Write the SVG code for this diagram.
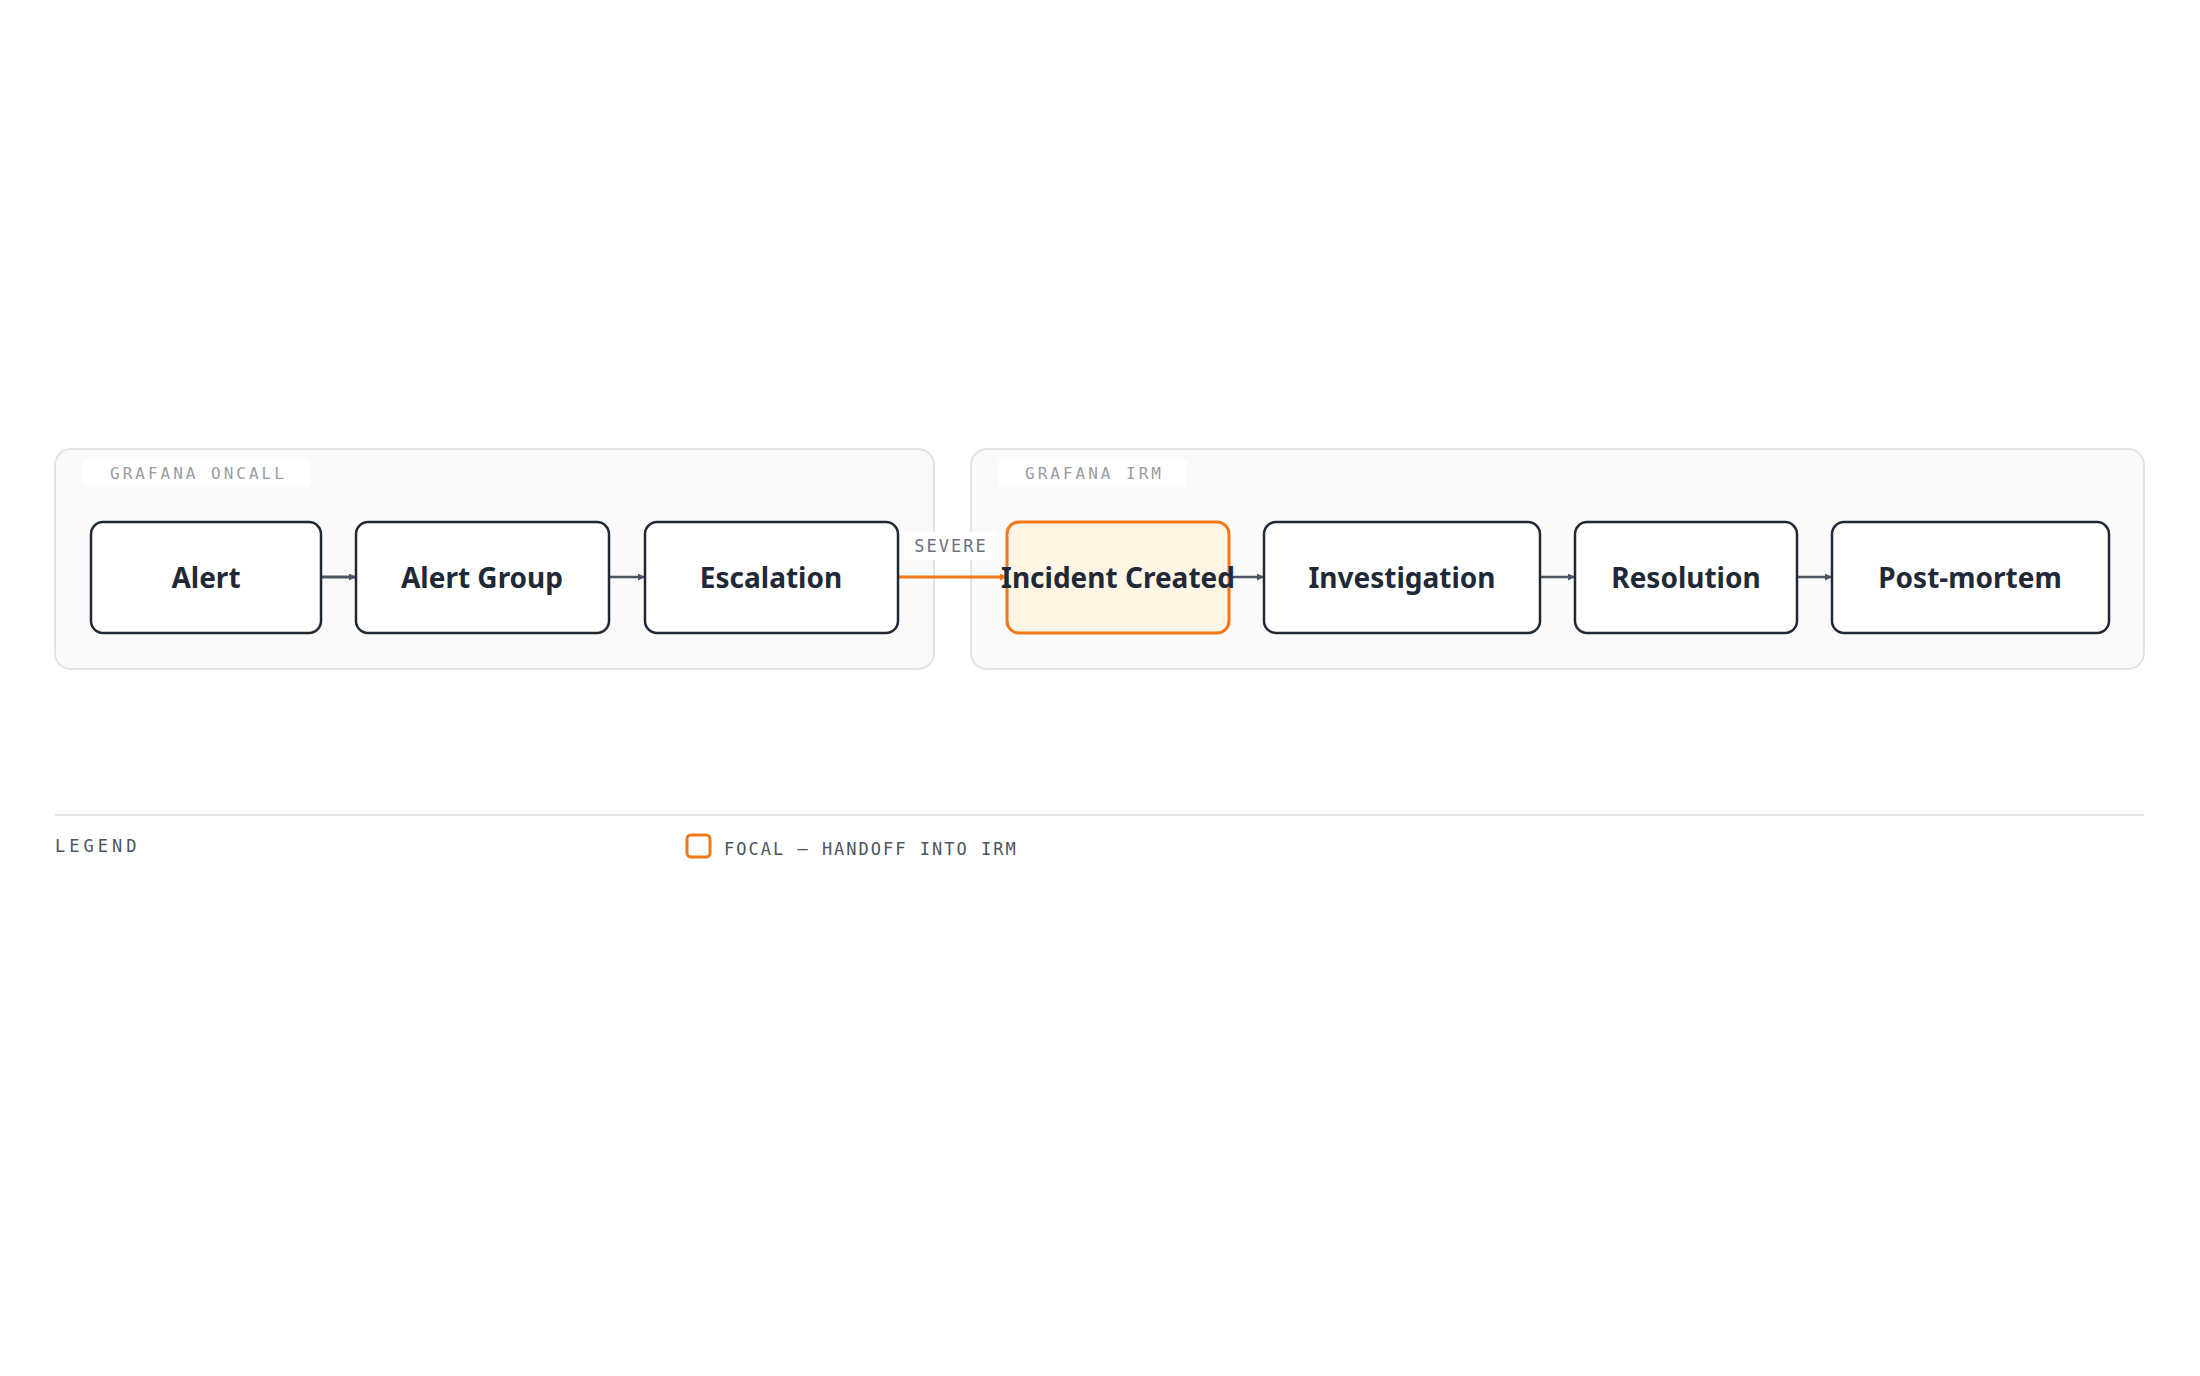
<svg xmlns="http://www.w3.org/2000/svg" width="2200" height="1376" viewBox="0 0 2200 1376">
<style>
.grp{fill:#fafafa;stroke:#e3e3e3;stroke-width:2}
.pill{fill:#ffffff}
.gl{font-family:"DejaVu Sans Mono","Liberation Mono",monospace;font-size:16px;fill:#9a9ca0;letter-spacing:3px}
.node{fill:#ffffff;stroke:#1f2937;stroke-width:2.5}
.focal{fill:#fff5e5;stroke:#f07818;stroke-width:3}
.nt{font-family:"Noto Sans","Open Sans",sans-serif;font-size:28px;font-weight:bold;fill:#1f2937;text-anchor:middle;dominant-baseline:central}
.e{stroke:#4b5563;stroke-width:2.5;fill:none}
.eo{stroke:#f07818;stroke-width:3;fill:none}
.lt{font-family:"DejaVu Sans Mono","Liberation Mono",monospace;font-size:17px;fill:#4b5563;letter-spacing:2px}
</style>
<defs>
<marker id="ag" viewBox="0 0 10 10" refX="10" refY="5" markerWidth="7" markerHeight="7" markerUnits="userSpaceOnUse" orient="auto"><path d="M0,0L10,5L0,10z" fill="#4b5563"/></marker>
<marker id="ao" viewBox="0 0 10 10" refX="10" refY="5" markerWidth="7" markerHeight="7" markerUnits="userSpaceOnUse" orient="auto"><path d="M0,0L10,5L0,10z" fill="#f07818"/></marker>
</defs>
<rect width="2200" height="1376" fill="#ffffff"/>
<g id="group-oncall">
<rect class="grp" x="55" y="449" width="879" height="220" rx="16"/>
<rect class="pill" x="83" y="459" width="227" height="28" rx="4"/>
<text class="gl" x="110" y="479">GRAFANA ONCALL</text>
</g>
<g id="group-irm">
<rect class="grp" x="971" y="449" width="1173" height="220" rx="16"/>
<rect class="pill" x="998" y="459" width="189" height="28" rx="4"/>
<text class="gl" x="1025" y="479">GRAFANA IRM</text>
</g>
<g id="connectors">
<line class="e" x1="321" y1="577" x2="356" y2="577" marker-end="url(#ag)" style="stroke-width:3"/>
<line class="e" x1="609" y1="577" x2="645" y2="577" marker-end="url(#ag)"/>
<line class="eo" x1="898" y1="577" x2="1007" y2="577" marker-end="url(#ao)"/>
<line class="e" x1="1229" y1="577" x2="1264" y2="577" marker-end="url(#ag)"/>
<line class="e" x1="1540" y1="577" x2="1575" y2="577" marker-end="url(#ag)"/>
<line class="e" x1="1797" y1="577" x2="1832" y2="577" marker-end="url(#ag)"/>
<rect x="904" y="532" width="94" height="28" fill="#ffffff"/>
<text class="lt" x="951" y="552" text-anchor="middle" style="fill:#6b7280">SEVERE</text>
</g>
<g id="n-alert"><rect class="node" x="91" y="522" width="230" height="111" rx="12"/><text class="nt" x="206" y="577">Alert</text></g>
<g id="n-alertgroup"><rect class="node" x="356" y="522" width="253" height="111" rx="12"/><text class="nt" x="482" y="577">Alert Group</text></g>
<g id="n-escalation"><rect class="node" x="645" y="522" width="253" height="111" rx="12"/><text class="nt" x="771" y="577">Escalation</text></g>
<g id="n-incident"><rect class="focal" x="1007" y="522" width="222" height="111" rx="12"/><text class="nt" x="1118" y="577">Incident Created</text></g>
<g id="n-investigation"><rect class="node" x="1264" y="522" width="276" height="111" rx="12"/><text class="nt" x="1402" y="577">Investigation</text></g>
<g id="n-resolution"><rect class="node" x="1575" y="522" width="222" height="111" rx="12"/><text class="nt" x="1686" y="577">Resolution</text></g>
<g id="n-postmortem"><rect class="node" x="1832" y="522" width="277" height="111" rx="12"/><text class="nt" x="1970" y="577">Post-mortem</text></g>
<g id="legend">
<line x1="55" y1="815" x2="2144" y2="815" stroke="#e5e5e5" stroke-width="2"/>
<text class="lt" x="55" y="852" style="letter-spacing:4px">LEGEND</text>
<rect x="687" y="835" width="23" height="22" rx="4" fill="none" stroke="#f07818" stroke-width="3"/>
<text class="lt" x="724" y="855">FOCAL — HANDOFF INTO IRM</text>
</g>
</svg>
